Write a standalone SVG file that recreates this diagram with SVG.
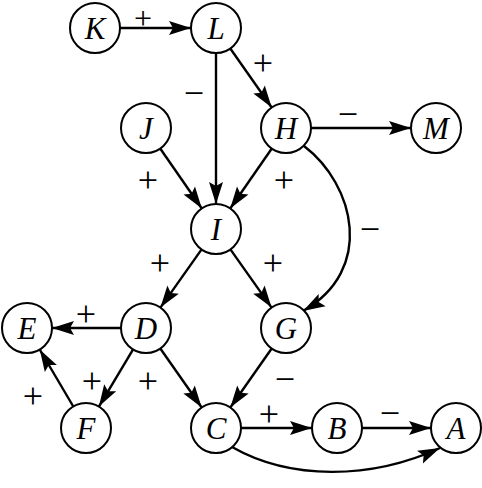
<svg xmlns="http://www.w3.org/2000/svg" width="482" height="488" viewBox="0 0 482 488">
<style>
.n circle{fill:#fff;stroke:#000;stroke-width:2}
.n text{font-family:"Liberation Serif",serif;font-style:italic;font-size:31px;text-anchor:middle}
.e path{fill:none;stroke:#000;stroke-width:2.4;marker-end:url(#ah)}
.l{font-family:"Liberation Serif",serif;font-size:36px;text-anchor:middle}
</style>
<defs>
<marker id="ah" markerUnits="userSpaceOnUse" markerWidth="26" markerHeight="18" viewBox="-24 -9 26 18" refX="0" refY="0" orient="auto">
<path d="M0,0 L-22,-7 L-18,0 L-22,7 Z" fill="#000"/>
</marker>
</defs>
<g id="connectors" class="e">
<path d="M120,28 L191,28"/>
<path d="M216,53 L216,204"/>
<path d="M230.3,48.5 L271.7,107.5"/>
<path d="M160.2,148.5 L201.8,208.5"/>
<path d="M271.8,148.5 L230.2,208.5"/>
<path d="M311,128 L411,128"/>
<path d="M304,146 C355,185 375,270 303,311"/>
<path d="M201.6,249.4 L160.4,307.6"/>
<path d="M230.4,249.4 L271.6,307.6"/>
<path d="M121,328 L52,328"/>
<path d="M133.1,349.4 L98.9,406.6"/>
<path d="M73.3,406.5 L39.7,349.5"/>
<path d="M160.3,348.5 L201.7,407.5"/>
<path d="M271.7,348.5 L230.3,407.5"/>
<path d="M241,428 L312,428"/>
<path d="M362,428 L431,428"/>
<path d="M232,447 C290,480 370,480 440,448"/>
</g>
<g id="labels">
<text class="l" x="143" y="29" style="font-size:32px">+</text>
<text class="l" x="194" y="105">−</text>
<text class="l" x="263" y="75">+</text>
<text class="l" x="348" y="126">−</text>
<text class="l" x="148" y="192">+</text>
<text class="l" x="284" y="192">+</text>
<text class="l" x="370" y="241">−</text>
<text class="l" x="160" y="275">+</text>
<text class="l" x="273" y="275">+</text>
<text class="l" x="86" y="326">+</text>
<text class="l" x="92" y="393">+</text>
<text class="l" x="148" y="393">+</text>
<text class="l" x="285" y="391">−</text>
<text class="l" x="33" y="408">+</text>
<text class="l" x="269" y="426">+</text>
<text class="l" x="390" y="425">−</text>
</g>
<g id="K" class="n"><circle cx="95" cy="28" r="25"/><text x="95" y="39">K</text></g>
<g id="L" class="n"><circle cx="216" cy="28" r="25"/><text x="216" y="39">L</text></g>
<g id="J" class="n"><circle cx="146" cy="128" r="25"/><text x="146" y="139">J</text></g>
<g id="H" class="n"><circle cx="286" cy="128" r="25"/><text x="286" y="139">H</text></g>
<g id="M" class="n"><circle cx="436" cy="128" r="25"/><text x="436" y="139">M</text></g>
<g id="I" class="n"><circle cx="216" cy="229" r="25"/><text x="216" y="240">I</text></g>
<g id="E" class="n"><circle cx="27" cy="328" r="25"/><text x="27" y="339">E</text></g>
<g id="D" class="n"><circle cx="146" cy="328" r="25"/><text x="146" y="339">D</text></g>
<g id="G" class="n"><circle cx="286" cy="328" r="25"/><text x="286" y="339">G</text></g>
<g id="F" class="n"><circle cx="86" cy="428" r="25"/><text x="86" y="439">F</text></g>
<g id="C" class="n"><circle cx="216" cy="428" r="25"/><text x="216" y="439">C</text></g>
<g id="B" class="n"><circle cx="337" cy="428" r="25"/><text x="337" y="439">B</text></g>
<g id="A" class="n"><circle cx="456" cy="428" r="25"/><text x="456" y="439">A</text></g>
</svg>
